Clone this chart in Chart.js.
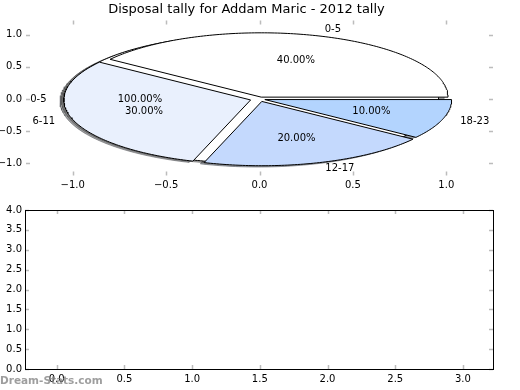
<!DOCTYPE html>
<html>
<head>
<meta charset="utf-8">
<script src="https://cdn.jsdelivr.net/npm/chart.js@4/dist/chart.umd.min.js"></script>
<style>
  html, body { margin: 0; padding: 0; background: #fff; }
  #wrap { position: relative; width: 520px; height: 390px; }
  #wrap canvas { position: absolute; left: 0; top: 0; }
</style>
</head>
<body>
<div id="wrap">
  <canvas id="pieChart" width="520" height="390"></canvas>
  <canvas id="emptyChart" width="520" height="390"></canvas>
</div>
<script>
"use strict";
// ========== DATA ========== //
const chartTitle = "Disposal tally for Addam Maric - 2012 tally";
const ageGroups = ["0-5", "6-11", "12-17", "18-23"];
const tallyShares = [40, 30, 20, 10];
// the stray one-slice pie drawn underneath the main one
const leftoverGroups = ["0-5"];
const leftoverShares = [100];
const pieTicks = [-1, -0.5, 0, 0.5, 1];
const emptyXTicks = [0, 0.5, 1, 1.5, 2, 2.5, 3];
const emptyYTicks = [0, 0.5, 1, 1.5, 2, 2.5, 3, 3.5, 4];

// ========== LOOK ========== //
const sliceColors = ["#ffffff", "#e9f0fd", "#c4d9fd", "#b3d4fe"];
const sliceExplode = [0.03, 0.05, 0.04, 0.03];
const leftoverExplode = [0.04];
const fontFamily = "'DejaVu Sans', 'Liberation Sans', sans-serif";

function fmtTick(v) {
  return v.toFixed(1).replace("-", "\u2212");
}

// outline of one wedge in data units (radius 1, counter clockwise from 3 o'clock)
function wedgePoints(startDeg, endDeg, shift, dx, dy) {
  const mid = (startDeg + endDeg) / 2 * Math.PI / 180;
  const cx = shift * Math.cos(mid) + dx;
  const cy = shift * Math.sin(mid) + dy;
  const fullCircle = endDeg - startDeg >= 360; // a full wedge has no radial edges
  const pts = fullCircle ? [] : [{x: cx, y: cy}];
  const steps = Math.max(2, Math.ceil(endDeg - startDeg));
  for (let i = 0; i <= steps; i++) {
    const a = (startDeg + (endDeg - startDeg) * i / steps) * Math.PI / 180;
    pts.push({x: cx + Math.cos(a), y: cy + Math.sin(a)});
  }
  if (!fullCircle) pts.push({x: cx, y: cy});
  return pts;
}

// turn shares into wedges (angles + labels)
function buildWedges(names, shares, explode, colors) {
  const total = shares.reduce((a, b) => a + b, 0);
  let start = 0;
  return shares.map((v, i) => {
    const end = start + v / total * 360;
    const w = {name: names[i], pct: (v / total * 100).toFixed(2) + "%", start: start, end: end,
      shift: explode[i], color: colors[i]};
    start = end;
    return w;
  });
}

const mainWedges = buildWedges(ageGroups, tallyShares, sliceExplode, sliceColors);
const leftoverWedges = buildWedges(leftoverGroups, leftoverShares, leftoverExplode, ["#ffffff"]);

function shadowColor(hex) {
  const r = parseInt(hex.slice(1, 3), 16) * 0.3;
  const g = parseInt(hex.slice(3, 5), 16) * 0.3;
  const b = parseInt(hex.slice(5, 7), 16) * 0.3;
  return "rgba(" + r + "," + g + "," + b + ",0.5)";
}

let pieDatasets = [];
for (let w of leftoverWedges.concat(mainWedges)) { // shadows go underneath everything
  pieDatasets.push({
    data: wedgePoints(w.start, w.end, w.shift, -0.02, -0.02),
    showLine: true, fill: "shape", tension: 0, pointRadius: 0,
    backgroundColor: shadowColor(w.color), borderColor: shadowColor(w.color), borderWidth: 1,
    order: 3
  });
}
for (let w of leftoverWedges) {
  pieDatasets.push({
    data: wedgePoints(w.start, w.end, w.shift, 0, 0),
    showLine: true, fill: "shape", tension: 0, pointRadius: 0,
    backgroundColor: w.color, borderColor: "#000", borderWidth: 1, order: 2
  });
}
for (let w of mainWedges) {
  pieDatasets.push({
    data: wedgePoints(w.start, w.end, w.shift, 0, 0),
    showLine: true, fill: "shape", tension: 0, pointRadius: 0,
    backgroundColor: w.color, borderColor: "#000", borderWidth: 1, order: 1
  });
}

// ========== PLUGINS ========== //
// small grey tick marks pointing inwards on all four sides, optional black frame
const frameTicks = {
  id: "frameTicks",
  afterDraw(chart, args, opts) {
    const {ctx, chartArea: a, scales: {x, y}} = chart;
    ctx.save();
    ctx.strokeStyle = "#bcbcbc";
    ctx.lineWidth = 1.5;
    ctx.beginPath();
    for (let t of x.ticks) {
      const px = Math.round(x.getPixelForValue(t.value)) + 0.5;
      ctx.moveTo(px, a.bottom); ctx.lineTo(px, a.bottom - 4);
      ctx.moveTo(px, a.top); ctx.lineTo(px, a.top + 4);
    }
    for (let t of y.ticks) {
      const py = Math.round(y.getPixelForValue(t.value)) + 0.5;
      ctx.moveTo(a.left, py); ctx.lineTo(a.left + 4, py);
      ctx.moveTo(a.right, py); ctx.lineTo(a.right - 4, py);
    }
    ctx.stroke();
    if (opts.frame) {
      ctx.strokeStyle = "#000";
      ctx.lineWidth = 1;
      ctx.strokeRect(Math.round(a.left) + 0.5, Math.round(a.top) + 0.5,
        Math.round(a.right - a.left), Math.round(a.bottom - a.top));
    }
    if (opts.watermark) {
      ctx.font = "bold 10.5px " + fontFamily;
      ctx.fillStyle = "rgba(125,125,125,0.75)";
      ctx.textBaseline = "middle";
      ctx.textAlign = "left";
      ctx.fillText(opts.watermark, 0, 381);
    }
    ctx.restore();
  }
};

// group names outside the pie and percentages inside, placed like matplotlib does
const wedgeLabels = {
  id: "wedgeLabels",
  afterDatasetsDraw(chart) {
    const {ctx, scales: {x, y}} = chart;
    ctx.save();
    ctx.font = "10px " + fontFamily;
    ctx.fillStyle = "#000";
    ctx.textBaseline = "middle";
    for (let w of leftoverWedges.concat(mainWedges)) {
      const mid = (w.start + w.end) / 2 * Math.PI / 180;
      const c = Math.cos(mid), s = Math.sin(mid);
      const r1 = 1.1 + w.shift;
      ctx.textAlign = c > 0 ? "left" : "right";
      ctx.fillText(w.name, x.getPixelForValue(r1 * c), y.getPixelForValue(r1 * s));
      const r2 = 0.6 + w.shift;
      ctx.textAlign = "center";
      ctx.fillText(w.pct, x.getPixelForValue(r2 * c), y.getPixelForValue(r2 * s));
    }
    ctx.restore();
  }
};

function axisOpts(min, max, tickValues, pad, fitSize, horizontal) {
  return {
    type: "linear", min: min, max: max,
    grid: {display: false, drawTicks: false},
    border: {display: false},
    ticks: {color: "#000", padding: pad, font: {family: fontFamily, size: 10}, callback: v => fmtTick(v)},
    afterBuildTicks: s => { s.ticks = tickValues.map(v => ({value: v})); },
    afterFit: s => { if (horizontal) s.height = fitSize; else s.width = fitSize; }
  };
}

// ========== CHARTS ========== //
new Chart(document.querySelector("#pieChart"), {
  type: "scatter",
  data: {datasets: pieDatasets},
  options: {
    responsive: false, animation: false, events: [],
    layout: {padding: {left: 0, right: 27, top: 0, bottom: 194.5}},
    scales: {
      x: axisOpts(-1.25, 1.25, pieTicks, 4, 20, true),
      y: axisOpts(-1.19, 1.22, pieTicks, 4, 26, false)
    },
    plugins: {
      legend: {display: false},
      tooltip: {enabled: false},
      title: {display: true, text: chartTitle, color: "#000",
        font: {family: fontFamily, size: 13, weight: "normal"}, padding: {top: 2.2, bottom: 2.7}},
      frameTicks: {frame: false}
    }
  },
  plugins: [frameTicks, wedgeLabels]
});

new Chart(document.querySelector("#emptyChart"), {
  type: "scatter",
  data: {datasets: []},
  options: {
    responsive: false, animation: false, events: [],
    layout: {padding: {left: 0, right: 27, top: 210, bottom: 7}},
    scales: {
      x: axisOpts(-0.234, 3.222, emptyXTicks, 4, 14, true),
      y: axisOpts(0, 4, emptyYTicks, 3, 25, false)
    },
    plugins: {
      legend: {display: false},
      tooltip: {enabled: false},
      frameTicks: {frame: true, watermark: "Dream-Stats.com"}
    }
  },
  plugins: [frameTicks]
});
</script>
</body>
</html>
